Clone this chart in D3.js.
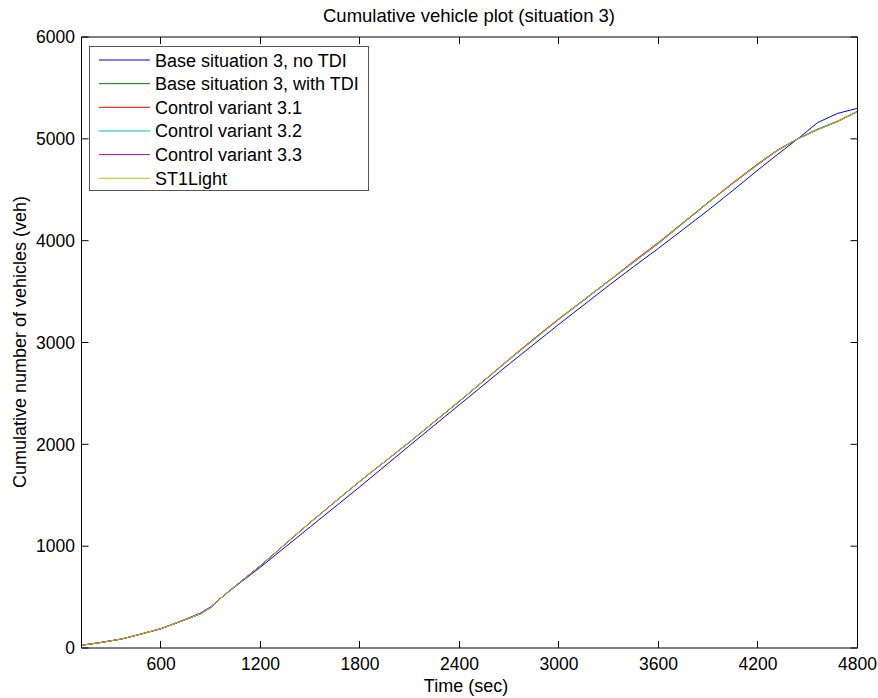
<!DOCTYPE html>
<html>
<head>
<meta charset="utf-8">
<script src="https://cdn.jsdelivr.net/npm/d3@7"></script>
<style>
  html, body { margin: 0; padding: 0; background: #fff; }
  svg { display: block; font-family: "Liberation Sans", Arial, sans-serif; }
</style>
</head>
<body>
<svg id="chart" width="878" height="698"></svg>
<script>
// ---- data ----
const times = [120,240,360,480,600,720,840,900,960,1020,1080,1200,1500,1800,2100,2400,2700,2850,3000,3300,3450,3600,3900,4050,4200,4320,4440,4560,4680,4800];

const baseNoTDI   = [27,55,88,137,190,265,345,405,490,568,645,795,1190,1585,1990,2390,2790,2985,3180,3560,3745,3925,4300,4495,4695,4850,5000,5160,5250,5300];
const baseWithTDI = [27,55,88,137,190,262,338,398,490,572,652,808,1233,1638,2023,2423,2833,3031,3228,3603,3788,3973,4373,4563,4748,4888,5000,5094,5173,5271];
const control31   = [27,55,88,137,190,262,338,398,490,572,652,810,1235,1640,2025,2425,2837,3040,3234,3606,3798,3982,4378,4570,4756,4893,5001,5091,5170,5266];
const control32   = [27,55,88,137,190,262,338,398,490,572,652,809,1234,1639,2024,2424,2834,3032,3229,3604,3789,3974,4374,4564,4749,4889,5003,5097,5174,5268];
const control33   = [27,55,88,137,190,262,338,398,490,572,652,810,1235,1640,2025,2425,2836,3038,3232,3605,3794,3979,4376,4567,4753,4891,5000,5090,5170,5268];
const st1Light    = [27,55,88,137,190,262,338,398,490,572,652,810,1235,1640,2025,2425,2835,3033,3230,3605,3790,3975,4375,4565,4750,4890,5000,5090,5170,5268];

const seriesNames  = ["Base situation 3, no TDI","Base situation 3, with TDI","Control variant 3.1","Control variant 3.2","Control variant 3.3","ST1Light"];
const seriesValues = [baseNoTDI, baseWithTDI, control31, control32, control33, st1Light];
const seriesColors = ["#0000ff","#008000","#ff0000","#00bfbf","#bf00bf","#bfbf00"];

const xTicks = [600,1200,1800,2400,3000,3600,4200,4800];
const yTicks = [0,1000,2000,3000,4000,5000,6000];

const titleText = "Cumulative vehicle plot (situation 3)";
const xLabel = "Time (sec)";
const yLabel = "Cumulative number of vehicles (veh)";

// ---- layout ----
const svg = d3.select("#chart");
const L = 81.5, R = 857.5, T = 37, B = 648;
const x = d3.scaleLinear().domain([120, 4800]).range([L, R]);
const y = d3.scaleLinear().domain([0, 6000]).range([B, T]);
const fs = 17.5;
const tickLen = 7;

// plot lines (drawn in order, last on top)
const line = d3.line().x((d, i) => x(times[i])).y(d => y(d));
seriesValues.forEach((vals, k) => {
  svg.append("path")
    .datum(vals)
    .attr("fill", "none")
    .attr("stroke", seriesColors[k])
    .attr("stroke-width", 1)
    .attr("d", line);
});

// axes box
const box = svg.append("g").attr("stroke", "#000").attr("stroke-width", 1).attr("fill", "none");
box.append("line").attr("x1", L).attr("x2", R).attr("y1", B).attr("y2", B);
box.append("line").attr("x1", L).attr("x2", R).attr("y1", T).attr("y2", T);
box.append("line").attr("x1", L).attr("x2", L).attr("y1", T).attr("y2", B);
box.append("line").attr("x1", R).attr("x2", R).attr("y1", T).attr("y2", B);

// x ticks (inward, bottom and top)
xTicks.forEach(t => {
  const px = Math.round(x(t)) - 0.5;
  box.append("line").attr("x1", px).attr("x2", px).attr("y1", B).attr("y2", B - tickLen);
  box.append("line").attr("x1", px).attr("x2", px).attr("y1", T).attr("y2", T + tickLen);
  svg.append("text").attr("x", x(t)).attr("y", 669.5)
    .attr("text-anchor", "middle").attr("font-size", fs).attr("fill", "#000").text(t);
});

// y ticks (inward, left and right)
yTicks.forEach(v => {
  const py = y(v);
  box.append("line").attr("x1", L).attr("x2", L + tickLen).attr("y1", py).attr("y2", py);
  box.append("line").attr("x1", R).attr("x2", R - tickLen).attr("y1", py).attr("y2", py);
  svg.append("text").attr("x", 75).attr("y", py + 6.3)
    .attr("text-anchor", "end").attr("font-size", fs).attr("fill", "#000").text(v);
});

// title and axis labels
svg.append("text").attr("x", 469).attr("y", 22).attr("text-anchor", "middle")
  .attr("font-size", 18.5).attr("fill", "#000").text(titleText);
svg.append("text").attr("x", 466).attr("y", 692).attr("text-anchor", "middle")
  .attr("font-size", 18).attr("fill", "#000").text(xLabel);
svg.append("text").attr("transform", "translate(26,342) rotate(-90)").attr("text-anchor", "middle")
  .attr("font-size", 18).attr("fill", "#000").text(yLabel);

// legend
const lg = svg.append("g");
lg.append("rect").attr("x", 89.5).attr("y", 46.5).attr("width", 279).attr("height", 144)
  .attr("fill", "#fff").attr("stroke", "#555").attr("stroke-width", 1);
seriesNames.forEach((name, k) => {
  const cy = 60 + k * 23.65;
  lg.append("line").attr("x1", 99).attr("x2", 150).attr("y1", cy).attr("y2", cy)
    .attr("stroke", seriesColors[k]).attr("stroke-width", 1);
  lg.append("text").attr("x", 155).attr("y", cy + 6.5).attr("font-size", 18)
    .attr("fill", "#000").text(name);
});
</script>
</body>
</html>
